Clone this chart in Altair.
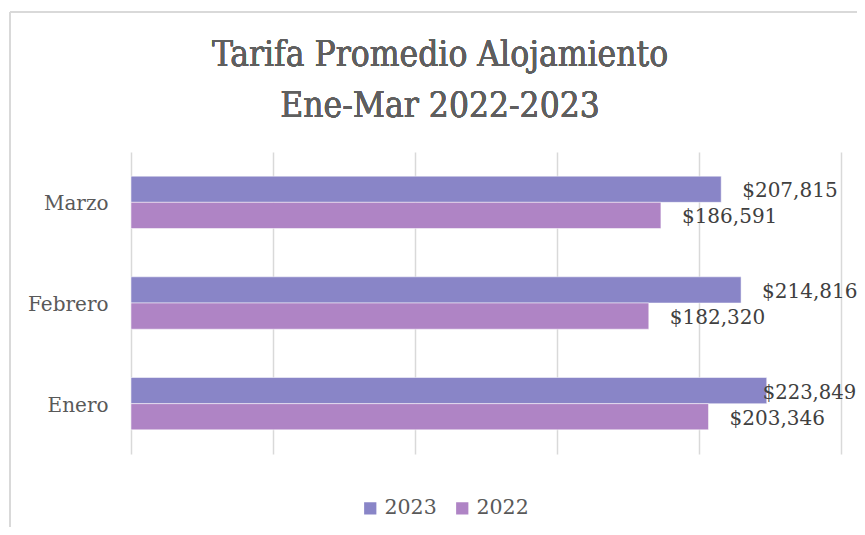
import altair as alt
import pandas as pd

meses = ["Marzo", "Febrero", "Enero"]
anios = ["2023", "2022"]
valores_2023 = [207815, 214816, 223849]
valores_2022 = [186591, 182320, 203346]
colores = ["#8985C7", "#AF84C5"]
titulo = ["Tarifa Promedio Alojamiento", "Ene-Mar 2022-2023"]
grid_values = [0, 50000, 100000, 150000, 200000, 250000]

rows = []
for m, v23, v22 in zip(meses, valores_2023, valores_2022):
    rows.append({"mes": m, "anio": "2023", "valor": v23})
    rows.append({"mes": m, "anio": "2022", "valor": v22})
df = pd.DataFrame(rows)

TFONT = "DejaVu Serif Condensed"
SERIF = "DejaVu Serif"

y_enc = alt.Y("mes:N", sort=meses, title=None,
              scale=alt.Scale(paddingInner=0.48, paddingOuter=0.24),
              axis=alt.Axis(ticks=False, domain=False, labelFont=SERIF, labelFontSize=20,
                            labelColor="#595959", labelPadding=23, labelOffset=2, grid=False))
yoff = alt.YOffset("anio:N", sort=anios)
x_enc = alt.X("valor:Q", title=None,
              scale=alt.Scale(domain=[0, 250000], nice=False),
              axis=alt.Axis(labels=False, ticks=False, domain=False,
                            values=grid_values,
                            grid=True, gridColor="#D9D9D9", gridWidth=1.5))

base = alt.Chart(df)

bars = base.mark_bar(stroke="white", strokeWidth=0.5).encode(
    y=y_enc, yOffset=yoff, x=x_enc,
    color=alt.Color("anio:N", sort=anios,
                    scale=alt.Scale(domain=anios, range=colores),
                    legend=alt.Legend(title=None, orient="none", direction="horizontal",
                                      legendX=229, legendY=346, symbolType="square",
                                      symbolSize=150, symbolStrokeWidth=0,
                                      labelFont=SERIF, labelFontSize=20.5, labelColor="#595959",
                                      columnPadding=15, labelOffset=4)),
)

is_special = (alt.datum.mes == "Enero") & (alt.datum.anio == "2023")

labels = base.mark_text(align="left", baseline="middle", dx=21, dy=2,
                        font=SERIF, fontSize=20, color="#404040").encode(
    y=y_enc, yOffset=yoff, x=x_enc,
    text=alt.Text("valor:Q", format="$,.0f"),
).transform_filter(~is_special)

labels2 = base.mark_text(align="left", baseline="middle", dx=-4, dy=2,
                         font=SERIF, fontSize=19.6, color="#404040").encode(
    y=y_enc, yOffset=yoff, x=x_enc,
    text=alt.Text("valor:Q", format="$,.0f"),
).transform_filter(is_special)

title_mark = alt.Chart(df).mark_text(
    text=titulo, font=TFONT, fontSize=35, color="#5F5F5F", align="center",
    baseline="alphabetic", lineHeight=51,
).encode(x=alt.value(309), y=alt.value(-86))

border_left = alt.Chart(df).mark_rule(color="#D9D9D9", strokeWidth=2).encode(
    x=alt.value(-121), y=alt.value(-140), y2=alt.value(375))
border_top = alt.Chart(df).mark_rule(color="#D9D9D9", strokeWidth=1.5).encode(
    x=alt.value(-121), x2=alt.value(726), y=alt.value(-140))

chart = alt.layer(border_left, border_top, title_mark, bars, labels, labels2).properties(
    width=710, height=302,
    autosize=alt.AutoSizeParams(type="none"),
    padding={"left": 123, "top": 144, "right": 16, "bottom": 73},
).configure_view(stroke=None)

chart.save("out.html", embed_options={"renderer": "svg", "actions": False})
